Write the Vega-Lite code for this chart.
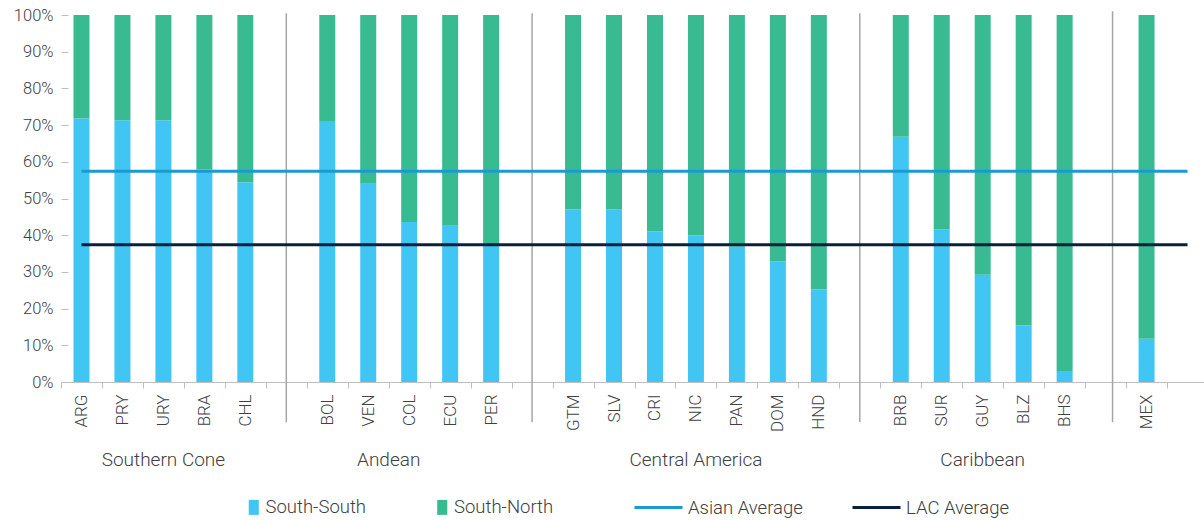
{
  "$schema": "https://vega.github.io/schema/vega-lite/v6.json",
  "autosize": {"type": "none"},
  "width": 1143,
  "height": 367,
  "padding": {"left": 61, "top": 15, "right": 0, "bottom": 138},
  "background": "white",
  "config": {
    "view": {"stroke": null},
    "font": "Roboto",
    "text": {"font": "Roboto"},
    "axis": {"labelFont": "Roboto", "labelColor": "#404040", "labelFontSize": 17, "grid": false}
  },
  "resolve": {"axis": {"y": "independent"}},
  "datasets": {
    "bars": [
      {"country": "ARG", "flow": "South-South", "share": 0.718}, {"country": "ARG", "flow": "South-North", "share": 0.282},
      {"country": "PRY", "flow": "South-South", "share": 0.713}, {"country": "PRY", "flow": "South-North", "share": 0.287},
      {"country": "URY", "flow": "South-South", "share": 0.713}, {"country": "URY", "flow": "South-North", "share": 0.287},
      {"country": "BRA", "flow": "South-South", "share": 0.579}, {"country": "BRA", "flow": "South-North", "share": 0.421},
      {"country": "CHL", "flow": "South-South", "share": 0.544}, {"country": "CHL", "flow": "South-North", "share": 0.456},
      {"country": "BOL", "flow": "South-South", "share": 0.711}, {"country": "BOL", "flow": "South-North", "share": 0.289},
      {"country": "VEN", "flow": "South-South", "share": 0.540}, {"country": "VEN", "flow": "South-North", "share": 0.460},
      {"country": "COL", "flow": "South-South", "share": 0.436}, {"country": "COL", "flow": "South-North", "share": 0.564},
      {"country": "ECU", "flow": "South-South", "share": 0.426}, {"country": "ECU", "flow": "South-North", "share": 0.574},
      {"country": "PER", "flow": "South-South", "share": 0.376}, {"country": "PER", "flow": "South-North", "share": 0.624},
      {"country": "GTM", "flow": "South-South", "share": 0.471}, {"country": "GTM", "flow": "South-North", "share": 0.529},
      {"country": "SLV", "flow": "South-South", "share": 0.471}, {"country": "SLV", "flow": "South-North", "share": 0.529},
      {"country": "CRI", "flow": "South-South", "share": 0.411}, {"country": "CRI", "flow": "South-North", "share": 0.589},
      {"country": "NIC", "flow": "South-South", "share": 0.400}, {"country": "NIC", "flow": "South-North", "share": 0.600},
      {"country": "PAN", "flow": "South-South", "share": 0.369}, {"country": "PAN", "flow": "South-North", "share": 0.631},
      {"country": "DOM", "flow": "South-South", "share": 0.329}, {"country": "DOM", "flow": "South-North", "share": 0.671},
      {"country": "HND", "flow": "South-South", "share": 0.252}, {"country": "HND", "flow": "South-North", "share": 0.748},
      {"country": "BRB", "flow": "South-South", "share": 0.668}, {"country": "BRB", "flow": "South-North", "share": 0.332},
      {"country": "SUR", "flow": "South-South", "share": 0.416}, {"country": "SUR", "flow": "South-North", "share": 0.584},
      {"country": "GUY", "flow": "South-South", "share": 0.292}, {"country": "GUY", "flow": "South-North", "share": 0.708},
      {"country": "BLZ", "flow": "South-South", "share": 0.154}, {"country": "BLZ", "flow": "South-North", "share": 0.846},
      {"country": "BHS", "flow": "South-South", "share": 0.030}, {"country": "BHS", "flow": "South-North", "share": 0.970},
      {"country": "MEX", "flow": "South-South", "share": 0.118}, {"country": "MEX", "flow": "South-North", "share": 0.882}
    ],
    "seps": [
      {"gap": " ", "kind": "a"}, {"gap": "  ", "kind": "a"}, {"gap": "   ", "kind": "a"}, {"gap": "    ", "kind": "b"}
    ],
    "avgs": [
      {"avg": "Asian Average", "value": 0.574},
      {"avg": "LAC Average", "value": 0.374}
    ],
    "groups": [
      {"group": "Southern Cone", "anchor": "URY", "kind": "a"},
      {"group": "Andean", "anchor": "VEN", "kind": "b"},
      {"group": "Central America", "anchor": "NIC", "kind": "a"},
      {"group": "Caribbean", "anchor": "GUY", "kind": "a"}
    ]
  },
  "layer": [
    {
      "data": {"name": "bars"},
      "mark": {"type": "bar", "size": 16},
      "encoding": {
        "x": {
          "field": "country", "type": "nominal", "title": null,
          "scale": {
            "type": "band",
            "domain": ["ARG","PRY","URY","BRA","CHL"," ","BOL","VEN","COL","ECU","PER","  ","GTM","SLV","CRI","NIC","PAN","DOM","HND","   ","BRB","SUR","GUY","BLZ","BHS","    ","MEX","     "],
            "range": [0, 1147],
            "paddingInner": 0, "paddingOuter": 0
          },
          "axis": {
            "domainColor": "#BFBFBF", "domainWidth": 1, "tickColor": "#BFBFBF", "tickSize": 6, "tickBand": "extent",
            "labelAngle": 270, "labelAlign": "right", "labelBaseline": "middle", "labelPadding": 6, "labelFontSize": 17,
            "labelColor": "#404040", "labelFontWeight": 300, "labelOverlap": false
          }
        },
        "y": {
          "field": "share", "type": "quantitative", "stack": "zero", "title": null,
          "scale": {"domain": [0, 1], "nice": false},
          "axis": {
            "values": [0, 0.1, 0.2, 0.3, 0.4, 0.5, 0.6, 0.7, 0.8, 0.9, 1],
            "format": ".0%", "labelOverlap": false, "offset": -7, "tickSize": 7, "labelPadding": 8, "domain": false,
            "tickColor": "#BFBFBF", "labelFontSize": 16.5, "labelFontWeight": 300, "labelColor": "#404040"
          }
        },
        "color": {
          "field": "flow", "type": "nominal",
          "scale": {"domain": ["South-South", "South-North"], "range": ["#41C6F4", "#38BB91"]},
          "legend": {
            "orient": "none", "legendX": 183.5, "legendY": 483, "direction": "horizontal", "title": null,
            "symbolType": "M-0.67,-1H0.67V1H-0.67Z", "symbolSize": 225, "symbolStrokeWidth": 0,
            "labelFontSize": 18.5, "labelOffset": 2.5, "columnPadding": 66.5, "padding": 0,
            "labelColor": "#404040", "labelFont": "Roboto", "labelFontWeight": 300
          }
        },
        "order": {"field": "flow", "sort": "descending"}
      }
    },
    {
      "data": {"name": "seps"},
      "transform": [{"filter": "datum.kind == 'a'"}],
      "mark": {"type": "rule", "color": "#A6A6A6", "strokeWidth": 1.5},
      "encoding": {
        "x": {"field": "gap", "type": "nominal", "title": null},
        "y": {"datum": 1.005, "type": "quantitative", "axis": null},
        "y2": {"datum": -0.11}
      }
    },
    {
      "data": {"name": "seps"},
      "transform": [{"filter": "datum.kind == 'b'"}],
      "mark": {"type": "rule", "color": "#A6A6A6", "strokeWidth": 1.5},
      "encoding": {
        "x": {"field": "gap", "type": "nominal", "title": null, "bandPosition": 0.67},
        "y": {"datum": 1.01, "type": "quantitative", "axis": null},
        "y2": {"datum": -0.11}
      }
    },
    {
      "data": {"name": "avgs"},
      "mark": {"type": "rule", "strokeWidth": 3},
      "encoding": {
        "y": {"field": "value", "type": "quantitative", "title": null, "axis": null},
        "x": {"datum": "ARG", "bandPosition": 0.5},
        "x2": {"datum": "     ", "bandPosition": 0.5},
        "stroke": {
          "field": "avg", "type": "nominal",
          "scale": {"domain": ["Asian Average", "LAC Average"], "range": ["#1A9AD0", "#0C1F3D"]},
          "legend": {
            "orient": "none", "legendX": 588, "legendY": 483, "direction": "horizontal", "title": null,
            "symbolType": "M-3,0H3", "symbolSize": 256, "symbolStrokeWidth": 3, "symbolFillColor": "transparent",
            "labelFontSize": 18.5, "labelOffset": 20, "columnPadding": 43, "padding": 0,
            "labelColor": "#404040", "labelFont": "Roboto", "labelFontWeight": 300
          }
        }
      }
    },
    {
      "data": {"name": "groups"},
      "transform": [{"filter": "datum.kind == 'a'"}],
      "mark": {"type": "text", "fontSize": 19, "color": "#404040", "baseline": "middle", "align": "center", "fontWeight": 300},
      "encoding": {
        "x": {"field": "anchor", "type": "nominal", "title": null, "bandPosition": 0.5},
        "y": {"datum": -0.2125, "type": "quantitative", "axis": null},
        "text": {"field": "group"}
      }
    },
    {
      "data": {"name": "groups"},
      "transform": [{"filter": "datum.kind == 'b'"}],
      "mark": {"type": "text", "fontSize": 19, "color": "#404040", "baseline": "middle", "align": "center", "fontWeight": 300},
      "encoding": {
        "x": {"field": "anchor", "type": "nominal", "title": null, "bandPosition": 1},
        "y": {"datum": -0.2125, "type": "quantitative", "axis": null},
        "text": {"field": "group"}
      }
    }
  ]
}
